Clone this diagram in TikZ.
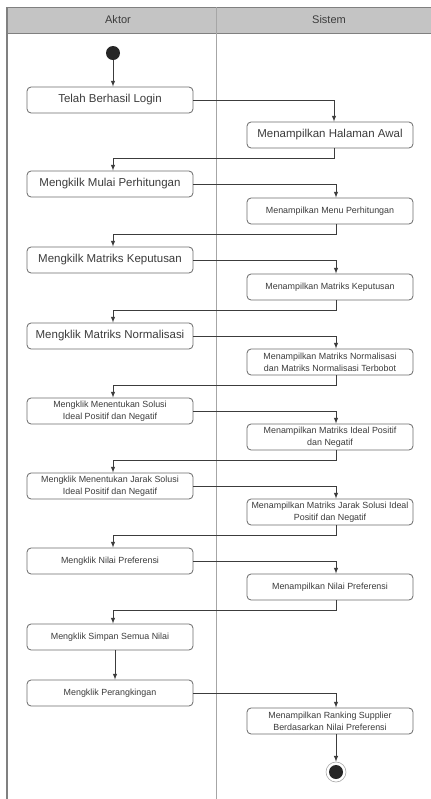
\documentclass[tikz,border=0pt]{standalone}
\usepackage{fontspec}
\setmainfont{Liberation Sans}
\usepackage{tikz}

\definecolor{headgray}{RGB}{196,196,196}
\definecolor{linegray}{RGB}{110,110,110}
\definecolor{textgray}{RGB}{60,60,60}

\begin{document}
\begin{tikzpicture}[x=0.03cm, y=-0.03cm,
    act/.style={rectangle, rounded corners=3.5pt, draw=linegray, line width=0.7pt, text=textgray,
        minimum width=4.98cm, minimum height=0.78cm, align=center, inner sep=1pt},
    big/.style={font=\fontsize{9.8}{11}\selectfont},
    small/.style={font=\fontsize{7.6}{10}\selectfont},
    flow/.style={-latex, draw=textgray, line width=0.7pt}]
                \useasboundingbox (0,0) rectangle (431,799);
                % Swimlanes
                \fill[white] (7,7) rectangle (431,799);
                \fill[headgray] (7,7) rectangle (431,33);
                \draw[gray, line width=0.8pt] (7,7) -- (431,7);
                \draw[gray, line width=0.6pt] (7,33) -- (431,33);
                \draw[gray, line width=1.6pt] (7,7) -- (7,799);
                \draw[gray!70, line width=0.5pt] (216,7) -- (216,799);
                \node at (118,20) [text=textgray, font=\fontsize{9.4}{11}\selectfont] (aktor) {Aktor};
                \node at (329,20) [text=textgray, font=\fontsize{9.4}{11}\selectfont] (sistem) {Sistem};

                % Start and end
                \node at (113,53) [circle, fill=black!85, minimum size=0.42cm, inner sep=0pt] (start) {};
                \node at (336,772) [circle, draw=gray!70, line width=0.5pt, minimum size=0.6cm, inner sep=0pt,
                    path picture={\fill[black!85] (path picture bounding box.center) circle (0.21cm);}] (end) {};

                % Activities of the actor
                \node at (110,100) [act, big] (login) {Telah Berhasil Login};
                \node at (110,184) [act, big] (mulai) {Mengkilk Mulai Perhitungan};
                \node at (110,260) [act, big] (klikkep) {Mengkilk Matriks Keputusan};
                \node at (110,336) [act, big] (kliknorm) {Mengklik Matriks Normalisasi};
                \node at (110,411) [act, small] (kliksolusi) {Mengklik Menentukan Solusi\\Ideal Positif dan Negatif};
                \node at (110,486) [act, small] (klikjarak) {Mengklik Menentukan Jarak Solusi\\Ideal Positif dan Negatif};
                \node at (110,561) [act, small] (klikpref) {Mengklik Nilai Preferensi};
                \node at (110,637) [act, small] (simpan) {Mengklik Simpan Semua Nilai};
                \node at (110,693) [act, small] (klikrank) {Mengklik Perangkingan};

                % Activities of the system
                \node at (330,135) [act, big] (awal) {Menampilkan Halaman Awal};
                \node at (330,211) [act, small] (menu) {Menampilkan Menu Perhitungan};
                \node at (330,287) [act, small] (tampkep) {Menampilkan Matriks Keputusan};
                \node at (330,362) [act, small] (tampnorm) {Menampilkan Matriks Normalisasi\\dan Matriks Normalisasi Terbobot};
                \node at (330,437) [act, small] (tampideal) {Menampilkan Matriks Ideal Positif\\dan Negatif};
                \node at (330,512) [act, small] (tampjarak) {Menampilkan Matriks Jarak Solusi Ideal\\Positif dan Negatif};
                \node at (330,587) [act, small] (tamppref) {Menampilkan Nilai Preferensi};
                \node at (330,721) [act, small] (tamprank) {Menampilkan Ranking Supplier\\Berdasarkan Nilai Preferensi};

                % Arrows actor -> system
                \draw[flow] (start) -- (start |- login.north);
                \draw[flow] (login.east) -| ([xshift=0.12cm]awal.north);
                \draw[flow] (mulai.east) -| ([xshift=0.18cm]menu.north);
                \draw[flow] (klikkep.east) -| ([xshift=0.18cm]tampkep.north);
                \draw[flow] (kliknorm.east) -| ([xshift=0.18cm]tampnorm.north);
                \draw[flow] (kliksolusi.east) -| ([xshift=0.18cm]tampideal.north);
                \draw[flow] (klikjarak.east) -| ([xshift=0.18cm]tampjarak.north);
                \draw[flow] (klikpref.east) -| ([xshift=0.18cm]tamppref.north);
                \draw[flow] (klikrank.east) -| ([xshift=0.18cm]tamprank.north);

                % Arrows system -> actor
                \draw[flow] ([xshift=0.12cm]awal.south) -- ++(0,10) -| ([xshift=0.09cm]mulai.north);
                \draw[flow] ([xshift=0.18cm]menu.south) -- ++(0,10) -| ([xshift=0.09cm]klikkep.north);
                \draw[flow] ([xshift=0.18cm]tampkep.south) -- ++(0,10) -| ([xshift=0.09cm]kliknorm.north);
                \draw[flow] ([xshift=0.18cm]tampnorm.south) -- ++(0,10) -| ([xshift=0.09cm]kliksolusi.north);
                \draw[flow] ([xshift=0.18cm]tampideal.south) -- ++(0,10) -| ([xshift=0.09cm]klikjarak.north);
                \draw[flow] ([xshift=0.18cm]tampjarak.south) -- ++(0,10) -| ([xshift=0.09cm]klikpref.north);
                \draw[flow] ([xshift=0.18cm]tamppref.south) -- ++(0,10) -| ([xshift=0.09cm]simpan.north);
                \draw[flow] ([xshift=0.15cm]simpan.south) -- ([xshift=0.15cm]klikrank.north);
                \draw[flow] ([xshift=0.18cm]tamprank.south) -- (end.north);

                \end{tikzpicture}
\end{document}
